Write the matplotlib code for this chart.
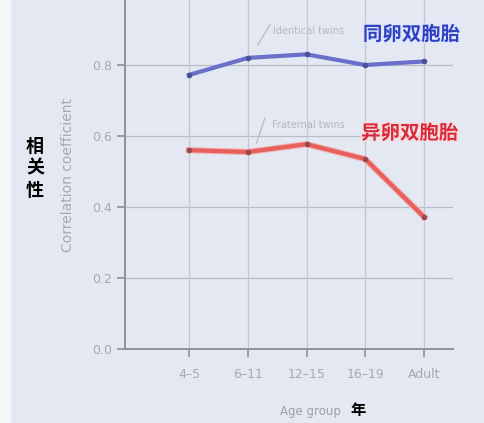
import matplotlib
matplotlib.use("Agg")
import matplotlib.pyplot as plt
import matplotlib.patheffects as pe
from matplotlib.patches import Rectangle

# data
age_groups = ["4–5", "6–11", "12–15", "16–19", "Adult"]
identical = [0.772, 0.820, 0.830, 0.800, 0.810]
fraternal = [0.560, 0.555, 0.577, 0.535, 0.372]
yticks = [0.0, 0.2, 0.4, 0.6, 0.8]

bg = "#e3e8f2"
gray_txt = "#a4a9b5"
axis_col = "#8c919c"

fig = plt.figure(figsize=(4.85, 4.23), dpi=100, facecolor=bg)
ax = fig.add_axes([125 / 485, 74 / 423, 328 / 485, 349 / 423])
ax.set_facecolor(bg)
# white strip on the left edge of the photo
fig.patches.append(Rectangle((0, 0), 10 / 485, 1, transform=fig.transFigure,
                             color="#f4f6fa", zorder=0))

x = list(range(len(age_groups)))
ax.set_xlim(-64 / 58.75, 264 / 58.75)
ax.set_ylim(0, 349 / 355)

# grid
for y in yticks[1:]:
    ax.axhline(y, color="#b9bdc8", lw=0.9, zorder=1)
for xi in x:
    ax.axvline(xi, color="#c3c7d1", lw=0.9, zorder=1)

ax.plot(x, identical, color="#6a6fc9", lw=3, zorder=3)
ax.plot(x, fraternal, color="#e8605c", lw=3, zorder=3,
        path_effects=[pe.Stroke(linewidth=4.5, foreground="#f2b0ae"), pe.Normal()])
ax.plot(x, identical, "o", ms=3, color="#4a4f99", zorder=4)
ax.plot(x, fraternal, "o", ms=3, color="#9a4a4e", zorder=4)

for s in ["top", "right"]:
    ax.spines[s].set_visible(False)
for s in ["left", "bottom"]:
    ax.spines[s].set_color(axis_col)
    ax.spines[s].set_linewidth(1.4)

ax.set_yticks(yticks)
ax.set_yticklabels([f"{v:.1f}" for v in yticks])
ax.set_xticks(x)
ax.set_xticklabels(age_groups)
ax.tick_params(axis="both", colors=axis_col, labelcolor=gray_txt, labelsize=9,
               length=6, width=1.2)
ax.tick_params(axis="x", pad=8)

ax.set_ylabel("Correlation coefficient", color=gray_txt, fontsize=10, labelpad=12)

# series labels with leader lines
ax.plot([1.17, 1.38], [0.856, 0.913], color="#b0b4bf", lw=0.8)
ax.text(1.43, 0.895, "Identical twins", color="#b4b8c3", fontsize=7, va="center")
ax.plot([1.15, 1.29], [0.580, 0.650], color="#b0b4bf", lw=0.8)
ax.text(1.41, 0.632, "Fraternal twins", color="#b4b8c3", fontsize=7, va="center")

cjk = ["Noto Sans CJK SC", "DejaVu Sans"]
ax.text(2.96, 0.885, "同卵双胞胎", color="#2e40c0", fontsize=14, fontweight="bold",
        family=cjk, va="center",
        path_effects=[pe.withStroke(linewidth=2, foreground="#dfe6ff")])
ax.text(2.93, 0.607, "异卵双胞胎", color="#d82a3c", fontsize=14, fontweight="bold",
        family=cjk, va="center",
        path_effects=[pe.withStroke(linewidth=2, foreground="#f6dede")])

fig.text(35 / 485, 1 - 168 / 423, "相\n关\n性", color="black", fontsize=13,
         fontweight="bold", family=cjk, ha="center", va="center", linespacing=1.2)
fig.text(310 / 485, 1 - 411 / 423, "Age group", color="#9a9fab", fontsize=8.5,
         ha="center", va="center")
fig.text(358 / 485, 1 - 410 / 423, "年", color="black", fontsize=11,
         fontweight="bold", family=cjk, ha="center", va="center")

fig.savefig("out.png", dpi=100, facecolor=bg)
